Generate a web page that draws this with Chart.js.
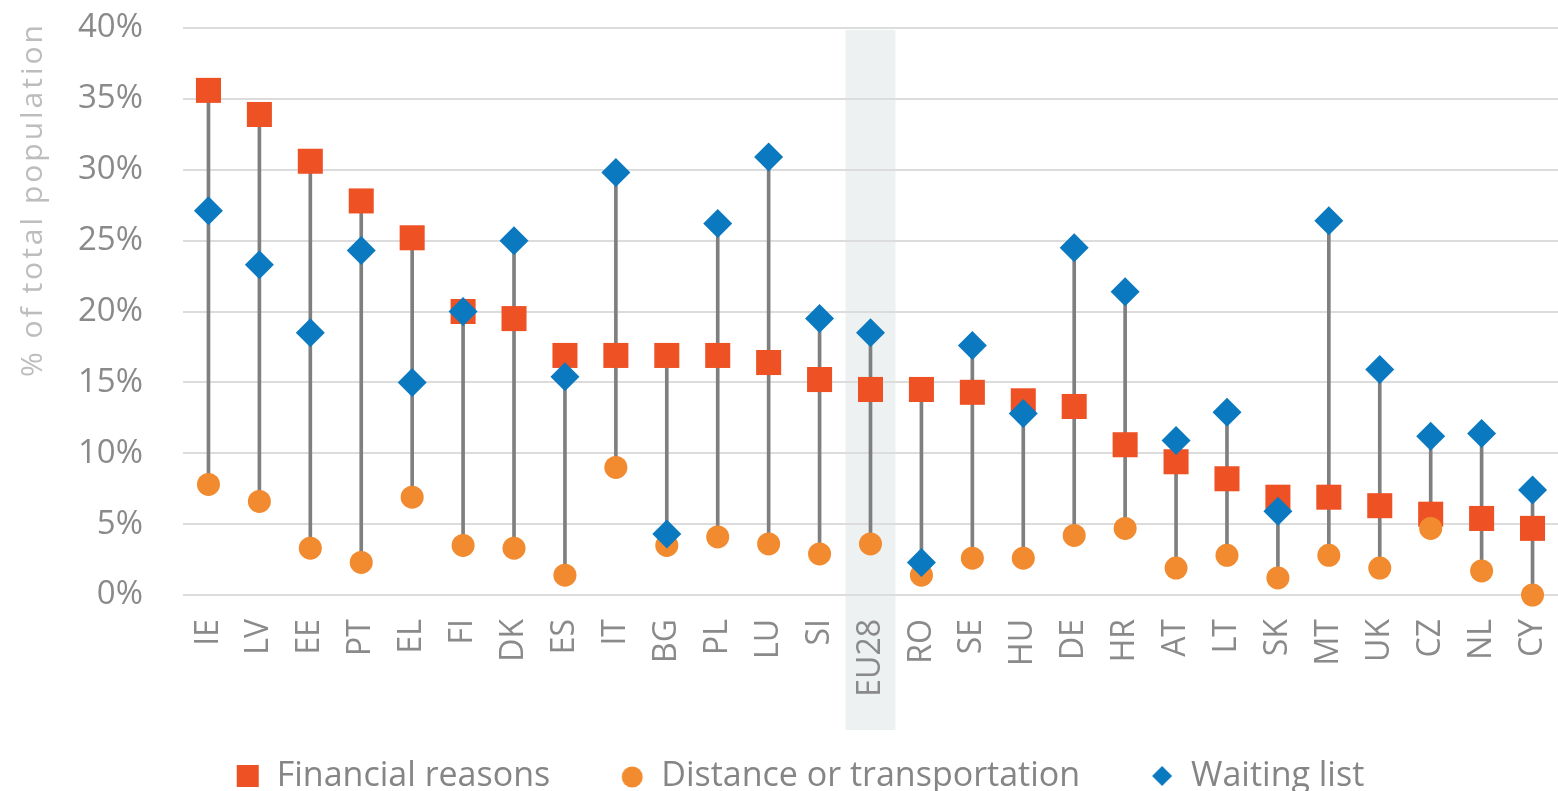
<!DOCTYPE html>
<html>
<head>
<meta charset="utf-8">
<title>Unmet needs for medical care</title>
<script src="https://cdn.jsdelivr.net/npm/chart.js@4/dist/chart.umd.min.js"></script>
<style>
  html, body { margin: 0; padding: 0; background: #ffffff; }
  canvas { display: block; }
</style>
</head>
<body>
<canvas id="chart" width="1558" height="791"></canvas>
<script>
// Share of the population reporting an unmet need, by reason (%)
const countries = ['IE','LV','EE','PT','EL','FI','DK','ES','IT','BG','PL','LU','SI','EU28',
                   'RO','SE','HU','DE','HR','AT','LT','SK','MT','UK','CZ','NL','CY'];
const financial = [35.6, 33.9, 30.6, 27.8, 25.2, 20.0, 19.5, 16.9, 16.9, 16.9, 16.9, 16.4, 15.2, 14.5,
                   14.5, 14.3, 13.7, 13.3, 10.6, 9.4, 8.2, 6.9, 6.9, 6.3, 5.7, 5.4, 4.7];
const distance  = [7.8, 6.6, 3.3, 2.3, 6.9, 3.5, 3.3, 1.4, 9.0, 3.5, 4.1, 3.6, 2.9, 3.6,
                   1.4, 2.6, 2.6, 4.2, 4.7, 1.9, 2.8, 1.2, 2.8, 1.9, 4.7, 1.7, 0.0];
const waiting   = [27.1, 23.3, 18.5, 24.3, 15.0, 20.0, 25.0, 15.4, 29.8, 4.3, 26.2, 30.9, 19.5, 18.5,
                   2.3, 17.6, 12.8, 24.5, 21.4, 10.9, 12.9, 5.9, 26.4, 15.9, 11.2, 11.4, 7.4];
const yTickValues = [0, 5, 10, 15, 20, 25, 30, 35, 40];
const seriesNames = ['Financial reasons', 'Distance or transportation', 'Waiting list'];
const axisTitle = '% of total population';
const highlighted = 'EU28';

const COLORS = { financial: '#ee5124', distance: '#f28a2f', waiting: '#0b79c0', stem: '#7f7f7f' };
const FONT = "'Open Sans', sans-serif";

// Vertical stem spanning the lowest to the highest reason in each country
const ranges = countries.map((_, i) => {
  const vals = [financial[i], distance[i], waiting[i]];
  return [Math.min(...vals), Math.max(...vals)];
});

// Small canvases used as legend symbols
function legendIcon(shape, color) {
  const c = document.createElement('canvas');
  c.width = 24; c.height = 24;
  const g = c.getContext('2d');
  g.fillStyle = color;
  if (shape === 'square') {
    g.fillRect(1, 1, 22, 22);
  } else if (shape === 'circle') {
    g.beginPath(); g.arc(12, 13, 10.5, 0, Math.PI * 2); g.fill();
  } else {
    g.beginPath(); g.moveTo(12, 2); g.lineTo(22, 12); g.lineTo(12, 22); g.lineTo(2, 12); g.closePath(); g.fill();
  }
  return c;
}
const icons = {
  1: legendIcon('square', COLORS.financial),
  2: legendIcon('circle', COLORS.distance),
  3: legendIcon('diamond', COLORS.waiting)
};

// Shaded column behind the EU average
const highlightBand = {
  id: 'highlightBand',
  beforeDraw(chart) {
    const x = chart.scales.x;
    const idx = countries.indexOf(highlighted);
    if (idx < 0) return;
    const cx = x.getPixelForValue(idx);
    const w = (x.getPixelForValue(1) - x.getPixelForValue(0)) * 0.98;
    const ctx = chart.ctx;
    ctx.save();
    ctx.fillStyle = '#eef1f1';
    ctx.fillRect(cx - w / 2, chart.chartArea.top + 2, w, chart.chartArea.bottom - chart.chartArea.top + 133);
    ctx.restore();
  }
};

// Rotated, letter-spaced y-axis title
const yTitle = {
  id: 'yTitle',
  afterDraw(chart) {
    const ctx = chart.ctx;
    ctx.save();
    ctx.translate(33, chart.chartArea.top - 6);
    ctx.rotate(-Math.PI / 2);
    ctx.font = "30px " + FONT;
    if ('letterSpacing' in ctx) ctx.letterSpacing = '3px';
    ctx.fillStyle = '#bdbdbd';
    ctx.textAlign = 'right';
    ctx.textBaseline = 'middle';
    ctx.fillText(axisTitle, 0, 0);
    ctx.restore();
  }
};

// Legend box: fixed height so the single row sits near the bottom edge,
// and a small nudge to centre it under the plot
const legendFit = {
  id: 'legendFit',
  beforeLayout(chart) {
    const lg = chart.legend;
    if (lg && !lg._fixedFit) {
      const fit = lg.fit.bind(lg);
      lg.fit = function () { fit(); this.height = 86; };
      lg._fixedFit = true;
    }
  },
  afterLayout(chart) {
    const lg = chart.legend;
    if (lg) { lg.left += 42; lg.top -= 16; }
  }
};

Chart.defaults.font.family = FONT;

new Chart(document.getElementById('chart'), {
  data: {
    labels: countries,
    datasets: [
      {
        type: 'bar',
        label: 'range',
        data: ranges,
        backgroundColor: COLORS.stem,
        borderWidth: 0,
        borderSkipped: false,
        barThickness: 3,
        order: 4
      },
      {
        type: 'line',
        label: seriesNames[0],
        data: financial,
        showLine: false,
        pointStyle: 'rect',
        pointRadius: 17.7,
        pointHoverRadius: 17.7,
        pointBackgroundColor: COLORS.financial,
        pointBorderWidth: 0,
        backgroundColor: COLORS.financial,
        borderColor: COLORS.financial,
        clip: false,
        order: 3
      },
      {
        type: 'line',
        label: seriesNames[1],
        data: distance,
        showLine: false,
        pointStyle: 'circle',
        pointRadius: 11.5,
        pointHoverRadius: 11.5,
        pointBackgroundColor: COLORS.distance,
        pointBorderWidth: 0,
        backgroundColor: COLORS.distance,
        borderColor: COLORS.distance,
        clip: false,
        order: 2
      },
      {
        type: 'line',
        label: seriesNames[2],
        data: waiting,
        showLine: false,
        pointStyle: 'rectRot',
        pointRadius: 14.5,
        pointHoverRadius: 14.5,
        pointBackgroundColor: COLORS.waiting,
        pointBorderWidth: 0,
        backgroundColor: COLORS.waiting,
        borderColor: COLORS.waiting,
        clip: false,
        order: 1
      }
    ]
  },
  options: {
    responsive: false,
    animation: false,
    devicePixelRatio: 1,
    layout: { autoPadding: false, padding: { top: 28, right: 0, left: 0, bottom: 0 } },
    scales: {
      x: {
        type: 'category',
        offset: true,
        grid: { display: false, drawTicks: false },
        border: { display: false },
        ticks: {
          autoSkip: false,
          minRotation: 90,
          maxRotation: 90,
          padding: 24,
          color: '#8a8a8a',
          font: { size: 32 }
        },
        afterFit(scale) {
          scale.height = 110;
          scale.paddingLeft = 0;
          scale.paddingRight = 0;
        }
      },
      y: {
        min: 0,
        max: 40,
        afterBuildTicks(scale) { scale.ticks = yTickValues.map(v => ({ value: v })); },
        grid: { color: '#dcdcdc', lineWidth: 2, drawTicks: false },
        border: { display: false },
        ticks: {
          padding: 40,
          color: '#8a8a8a',
          font: { size: 33 },
          callback: v => v + '%'
        },
        afterFit(scale) {
          scale.width = 183;
          scale.paddingTop = 0;
          scale.paddingBottom = 0;
        }
      }
    },
    plugins: {
      tooltip: { enabled: false },
      legend: {
        position: 'bottom',
        labels: {
          usePointStyle: true,
          boxWidth: 24,
          boxHeight: 24,
          padding: 70,
          color: '#858585',
          font: { size: 34 },
          filter: item => item.datasetIndex !== 0,
          sort: (a, b) => a.datasetIndex - b.datasetIndex,
          generateLabels(chart) {
            const items = Chart.defaults.plugins.legend.labels.generateLabels(chart);
            items.forEach(it => { if (icons[it.datasetIndex]) it.pointStyle = icons[it.datasetIndex]; });
            return items;
          }
        }
      }
    }
  },
  plugins: [highlightBand, yTitle, legendFit]
});
</script>
</body>
</html>
